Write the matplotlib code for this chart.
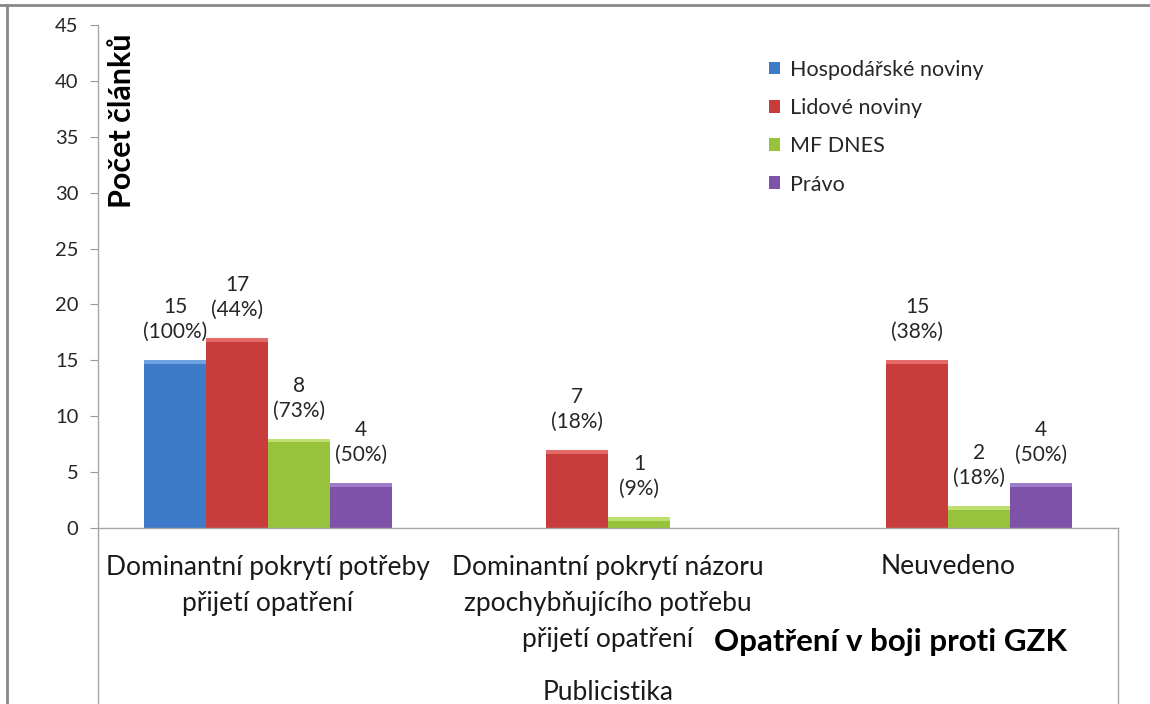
import numpy as np
import matplotlib
matplotlib.use("Agg")
import matplotlib.pyplot as plt
import matplotlib.transforms as mtransforms
from matplotlib.lines import Line2D
from matplotlib.patches import Patch

# ── Data ──────────────────────────────────────────────────────────────────────
categories = [
    "Dominantní pokrytí potřeby\npřijetí opatření",
    "Dominantní pokrytí názoru\nzpochybňujícího potřebu\npřijetí opatření",
    "Neuvedeno",
]
series = ["Hospodářské noviny", "Lidové noviny", "MF DNES", "Právo"]
counts = [
    [15, None, None],   # Hospodářské noviny
    [17, 7, 15],        # Lidové noviny
    [8, 1, 2],          # MF DNES
    [4, None, 4],       # Právo
]
percents = [
    [100, None, None],
    [44, 18, 38],
    [73, 9, 18],
    [50, None, 50],
]
colors = ["#3d7bc9", "#c83c3c", "#96c23c", "#7d52a8"]
tops = ["#6fa3e3", "#e46a6a", "#bde070", "#a07dcc"]

plt.rcParams["font.family"] = ["Lato", "DejaVu Sans"]

W, H = 1150, 704
fig = plt.figure(figsize=(W / 100, H / 100), dpi=100)
ax = fig.add_axes([98 / W, 1 - 528 / H, (1118 - 98) / W, (528 - 25) / H])

x = np.arange(len(categories))
bw = 1 / 5.5
for i, (name, vals) in enumerate(zip(series, counts)):
    xs = x + (i - 1.5) * bw
    for xi, v, p in zip(xs, vals, percents[i]):
        if v is None:
            continue
        ax.bar(xi, v, width=bw, color=colors[i], edgecolor="none", zorder=2)
        # light bevel strip on top of bar
        ax.bar(xi, 0.35, bottom=v - 0.35, width=bw, color=tops[i],
               edgecolor="none", zorder=3)
        ax.annotate(f"{v}\n({p}%)", (xi, v), xytext=(0, 13),
                    textcoords="offset points", ha="center", va="bottom",
                    fontsize=15, color="#262626", linespacing=1.3)

ax.set_xlim(-0.5, 2.5)
ax.set_ylim(0, 45)
ax.set_yticks(range(0, 46, 5))
ax.tick_params(axis="y", direction="out", length=6, color="#999999",
               labelsize=14.5, labelcolor="#262626", pad=8)
ax.set_xticks([])

# category labels, one text per line (Excel-like wide line spacing)
plot_h = 528 - 25
blend = mtransforms.blended_transform_factory(ax.transData, ax.transAxes)
for xi, label in zip(x, categories):
    for j, line in enumerate(label.split("\n")):
        ax.text(xi, -(567 - 528 + j * 36.5) / plot_h, line, transform=blend,
                ha="center", va="center", fontsize=19, color="#1a1a1a")

for s in ["top", "right"]:
    ax.spines[s].set_visible(False)
for s in ["left", "bottom"]:
    ax.spines[s].set_color("#a6a6a6")
    ax.spines[s].set_linewidth(1.0)

# category table lines below the axis
depth = (H - 528) / plot_h
ax.plot([0, 0], [0, -depth], transform=ax.transAxes, color="#a6a6a6",
        lw=1.0, clip_on=False)
ax.plot([1, 1], [0, -depth], transform=ax.transAxes, color="#a6a6a6",
        lw=1.0, clip_on=False)

ax.text((122 - 98) / 1020, (528 - 33) / plot_h, "Počet článků", rotation=90,
        transform=ax.transAxes, ha="center", va="top", fontsize=22,
        fontweight="bold", color="black")

fig.text(714 / W, 1 - 642 / H, "Opatření v boji proti GZK", ha="left",
         va="center", fontsize=22.5, fontweight="bold", color="black")
fig.text(608 / W, 1 - 693 / H, "Publicistika", ha="center", va="center",
         fontsize=19, color="#1a1a1a")

handles = [Patch(facecolor=c, edgecolor="none") for c in colors]
leg = ax.legend(handles, series, loc="upper left",
                bbox_to_anchor=((760 - 98) / 1020, (528 - 51) / plot_h),
                frameon=False, fontsize=15.5, handlelength=0.55,
                handleheight=0.55, handletextpad=0.45, labelspacing=0.85,
                borderaxespad=0)
for t in leg.get_texts():
    t.set_color("#262626")

# outer chart border
fig.add_artist(Line2D([0, 1], [1 - 5 / H, 1 - 5 / H], transform=fig.transFigure,
                      color="#888888", lw=2))
fig.add_artist(Line2D([7 / W, 7 / W], [0, 1 - 5 / H], transform=fig.transFigure,
                      color="#888888", lw=2))

fig.savefig("out.png", dpi=100)
